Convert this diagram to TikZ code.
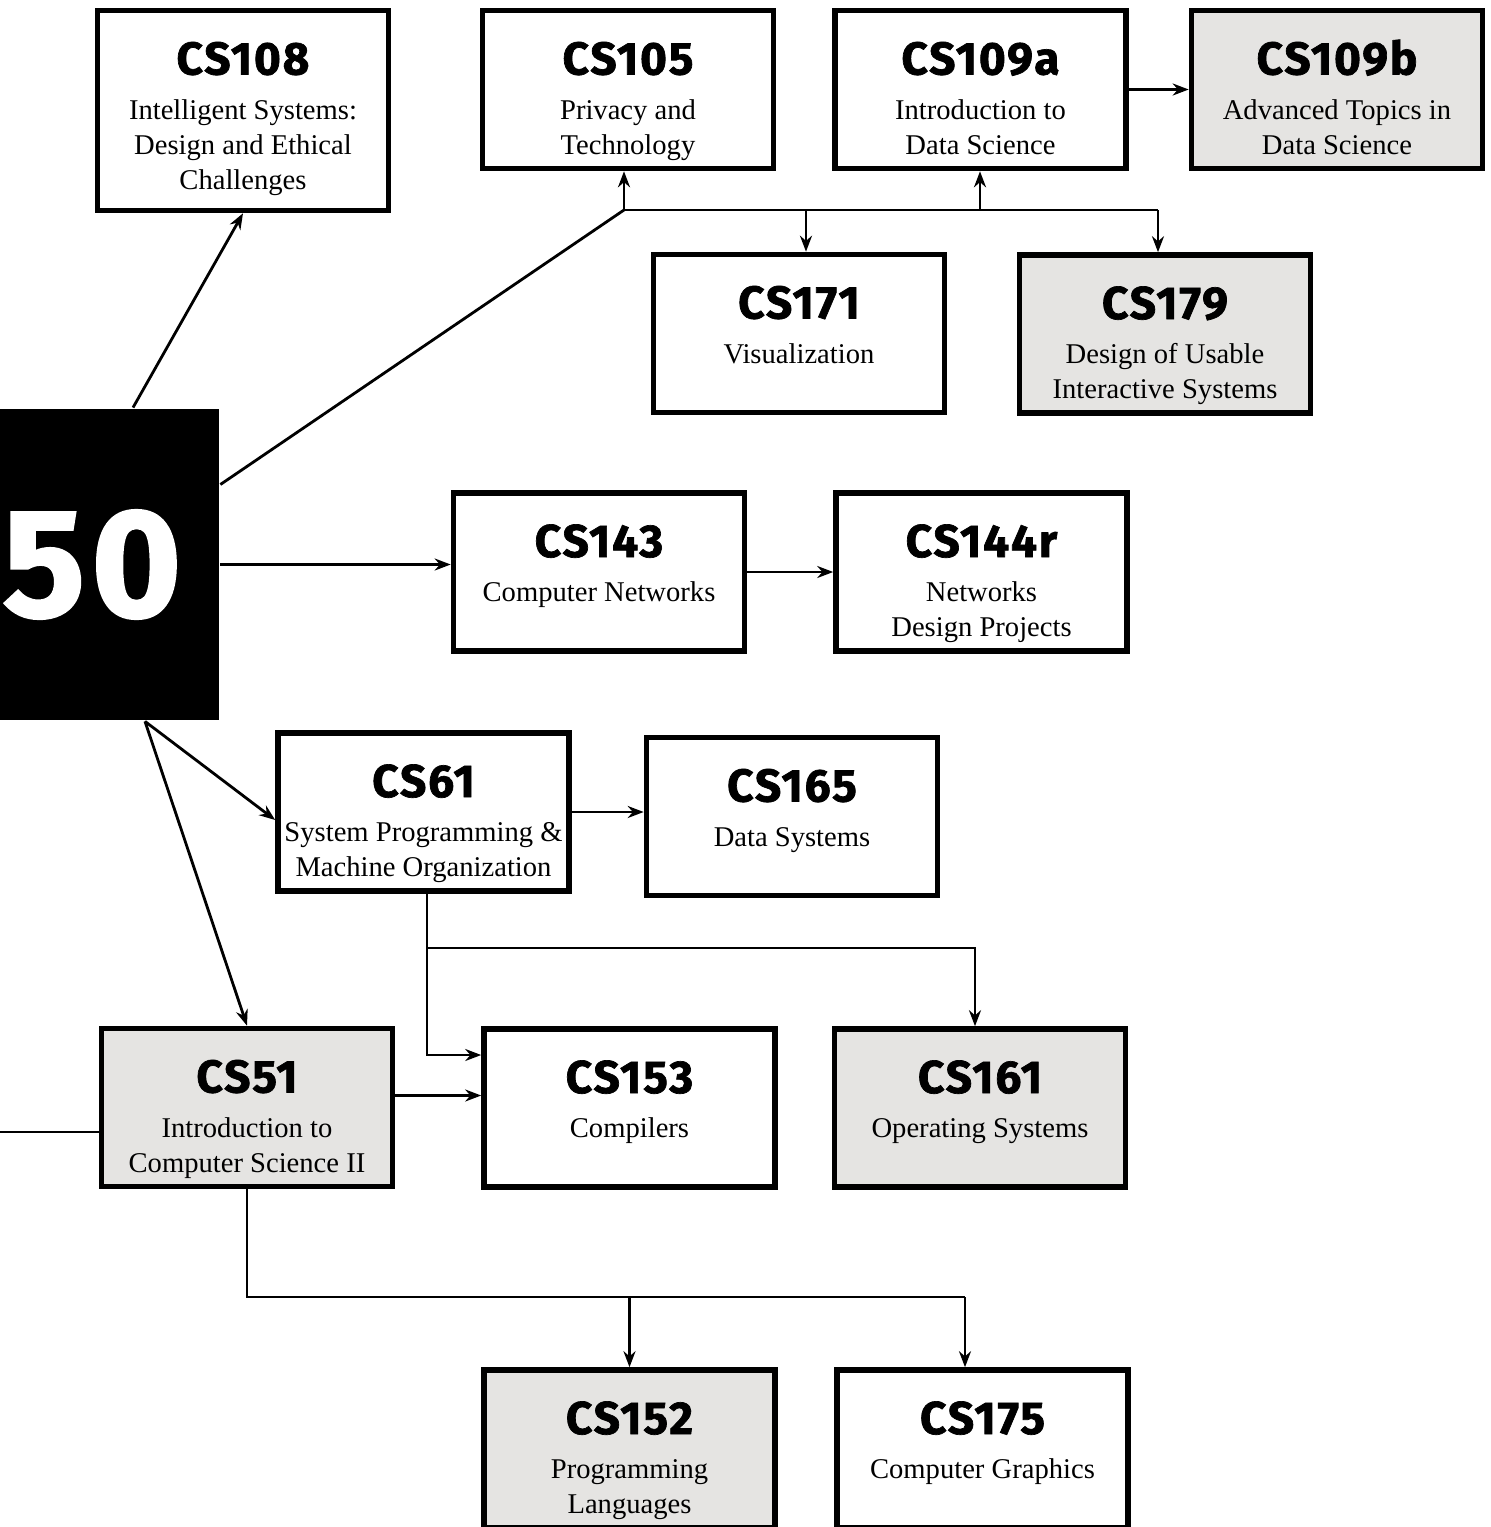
\documentclass[tikz,border=0pt]{standalone}
\usepackage{fontspec}
\setmainfont{Liberation Serif}
\newfontfamily\titlefont{Fira Sans}[BoldFeatures={FakeBold=1.5,LetterSpace=4}]
\usepackage{tikz}
\usetikzlibrary{calc,positioning,arrows.meta}
\definecolor{boxgray}{RGB}{229,228,226}
% title on top, description below; height of box as option
\newcommand{\course}[3][79]{\parbox[c][#1pt][t]{145.5pt}{\centering\rule{0pt}{32pt}{\titlefont\bfseries\fontsize{23}{23}\selectfont #2}\par\vspace{4.75pt}\fontsize{14.3}{17.5}\selectfont #3\par}}

\begin{document}
\begin{tikzpicture}[x=0.5pt,y=-0.5pt,->,>={Stealth[length=8pt,width=6pt]},line width=1.4pt]
        \tikzstyle{course}=[draw=black,fill=white,line width=2.8pt,inner sep=0pt,minimum width=145.5pt,minimum height=79pt]
        \tikzstyle{greycourse}=[course,fill=boxgray]
        \useasboundingbox (0,0) rectangle (1490,1527);

        \node[fill=black,text=white,inner sep=0pt,minimum width=127pt,minimum height=155.5pt,
              font={\titlefont\bfseries\fontsize{77}{77}\selectfont}](cs50) at (92,564.5){50};

        \node[course](cs108) at (243,110.5){\course[100]{CS108}{Intelligent Systems:\\Design and Ethical\\Challenges}};
        \node[course](cs105) at (628,89.5){\course{CS105}{Privacy and\\Technology}};
        \node[course](cs109a) at (980.5,89.5){\course{CS109a}{Introduction to\\Data Science}};
        \node[greycourse](cs109b) at (1337,89.5){\course{CS109b}{Advanced Topics in\\Data Science}};
        \node[course](cs171) at (799,333.5){\course{CS171}{Visualization}};
        \node[greycourse](cs179) at (1165,334){\course{CS179}{Design of Usable\\Interactive Systems}};
        \node[course](cs143) at (599,572){\course{CS143}{Computer Networks}};
        \node[course](cs144r) at (981.5,572){\course{CS144r}{Networks\\Design Projects}};
        \node[course](cs61) at (423.5,812){\course{CS61}{System Programming \&\\Machine Organization}};
        \node[course](cs165) at (792,816.5){\course{CS165}{Data Systems}};
        \node[greycourse](cs51) at (247,1107.5){\course{CS51}{Introduction to\\Computer Science II}};
        \node[course](cs153) at (629.5,1108){\course{CS153}{Compilers}};
        \node[greycourse](cs161) at (980,1108){\course{CS161}{Operating Systems}};
        \node[greycourse](cs152) at (629.5,1449){\course{CS152}{Programming\\Languages}};
        \node[course](cs175) at (982.5,1449){\course{CS175}{Computer Graphics}};

        % top branch
        \coordinate (jtop) at (624,210);
        \coordinate (j171) at (806,210);
        \coordinate (j109) at (980,210);
        \coordinate (j179) at (1158,210);
        \draw ($(cs50.north)+(41,0)$) -- (cs108.south);
        \draw[-] ($(cs50.east)+(0,-80)$) -- (jtop);
        \draw[-] (jtop) -- (j179);
        \draw (jtop) -- (jtop |- cs105.south);
        \draw (j171) -- (j171 |- cs171.north);
        \draw (j109) -- (j109 |- cs109a.south);
        \draw (j179) -- (j179 |- cs179.north);
        \draw (cs109a.east) -- (cs109b.west);

        % networks
        \draw (cs50.east) -- (cs50.east -| cs143.west);
        \draw (cs143.east) -- (cs144r.west);

        % systems
        \draw ($(cs50.south)+(53,0)$) -- ($(cs61.west)+(0,8)$);
        \draw ($(cs50.south)+(53,0)$) -- (cs51.north);
        \draw (cs61.east) -- (cs61.east -| cs165.west);
        \coordinate (j61) at (427,948);
        \draw (j61 |- cs61.south) |- ($(cs153.west)+(0,-53)$);
        \draw (j61) -| ($(cs161.north)+(-5,0)$);
        \coordinate (c51) at ([yshift=6pt]cs51.east);
        \draw (c51) -- (c51 -| cs153.west);
        \coordinate (lin) at (-20,1132);
        \draw[-] (lin) -- (lin -| cs51.west);

        % bottom branch
        \coordinate (j51) at (247,1297);
        \coordinate (j175) at (965,1297);
        \draw[-] (cs51.south) -- (j51) -- (j175);
        \draw (j51 -| cs152.north) -- (cs152.north);
        \draw (j175) -- (j175 |- cs175.north);
\end{tikzpicture}
\end{document}
